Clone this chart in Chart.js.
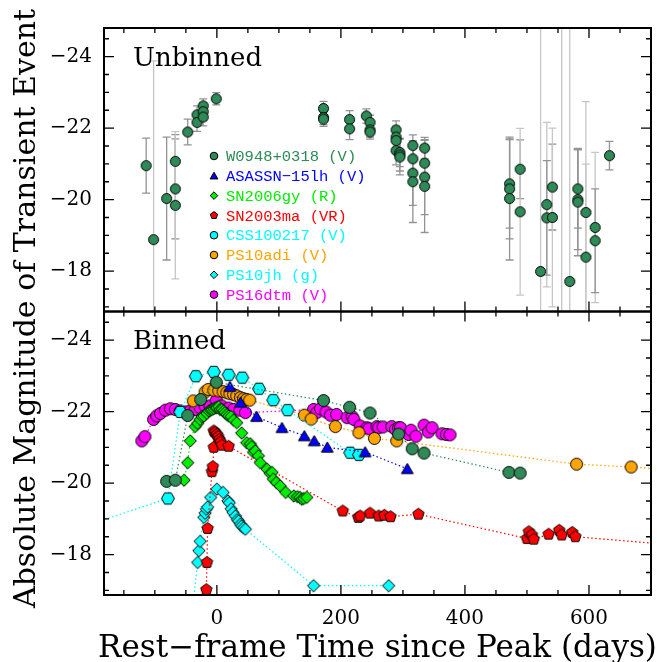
<!DOCTYPE html>
<html>
<head>
<meta charset="utf-8">
<script src="https://cdn.jsdelivr.net/npm/chart.js@4/dist/chart.umd.min.js"></script>
<style>
  html, body { margin: 0; padding: 0; background: #fff; }
  canvas { display: block; }
</style>
</head>
<body>
<canvas id="chart" width="663" height="662"></canvas>
<script>
// ---- axis ranges and ticks ----
const xMin = -182, xMax = 700;
const yMin = -24.8, yMax = -16.87;
const xTickValues = [0, 200, 400, 600];
const yTickValues = [-24, -22, -20, -18];

const legendLabels = ['W0948+0318 (V)', 'ASASSN\u221215lh (V)', 'SN2006gy (R)', 'SN2003ma (VR)',
  'CSS100217 (V)', 'PS10adi (V)', 'PS10jh (g)', 'PS16dtm (V)'];

// ---- top panel: W0948+0318 unbinned photometry ----
const unbinnedDays = [-114, -102, -81, -67, -67, -67, -47, -32, -32, -22, -22, -22, -1, 172, 172, 172, 214, 214,
  241, 247, 247, 247, 289, 289, 289, 289, 295, 295, 295, 316, 316, 316, 316, 335, 335, 335, 335,
  472, 472, 472, 489, 489, 522, 532, 532, 541, 541, 556, 569, 582, 582, 582, 595, 595, 610, 610, 633];
const unbinnedMags = [-20.95, -18.88, -20.03, -21.07, -20.30, -19.84, -21.89, -22.37, -22.16, -22.62, -22.46, -22.31,
  -22.82, -22.55, -22.30, -22.25, -22.24, -21.98, -22.34, -22.16, -21.95, -21.89, -21.95, -21.75, -21.65, -21.37,
  -21.32, -21.25, -21.19, -21.51, -21.14, -20.74, -20.50, -21.44, -21.02, -20.63, -20.37, -20.44, -20.30, -20.03,
  -20.85, -19.66, -17.99, -19.86, -19.49, -20.35, -19.50, -16.30, -17.71, -20.30, -20.00, -19.93, -19.64, -18.39,
  -19.22, -18.85, -21.23];
const unbinnedErrs = [0.77, 5.0, 1.72, 0.75, 1.4, 2.06, 0.36, 0.25, 0.25, 0.2, 0.25, 0.25, 0.17, 0.2, 0.2, 0.2, 0.25, 0.3,
  0.2, 0.2, 0.2, 0.2, 0.25, 0.3, 0.3, 0.4, 0.4, 0.45, 0.5, 0.3, 0.4, 0.9, 1.14, 0.3, 0.5, 1.05, 1.29,
  1.24, 1.4, 1.72, 0.82, 2.33, 7.5, 2.3, 1.6, 1.2, 2.5, 9.0, 7.5, 1.1, 1.4, 1.5, 3.1, 2.6, 2.1, 1.45, 0.4];

// ---- bottom panel: binned light curves ----
const w0948Days = [-81, -67, -47, -26, -1, 172, 214, 247, 293, 315, 334, 471, 489];
const w0948Mags = [-20.05, -20.08, -21.89, -22.34, -22.82, -22.31, -22.12, -21.96, -21.37, -20.96, -20.84, -20.30, -20.28];

const asassnDays = [21, 38, 64, 105, 141, 157, 178, 239, 307];
const asassnMags = [-22.70, -22.26, -21.86, -21.55, -21.32, -21.18, -21.00, -20.87, -20.40];

const sn2006gyDays = [-53, -47, -43, -35, -31, -27, -24, -21, -16, -13, -10, -8, -5, -2, 0, 3, 5, 8, 11, 13,
  16, 19, 23, 27, 32, 40, 48, 54, 56, 59, 62, 67, 70, 81, 86, 89, 91, 96, 102, 111, 124, 130, 134, 137, 140, 145];
const sn2006gyMags = [-20.08, -20.57, -21.18, -21.58, -21.67, -21.78, -21.86, -21.88, -21.95, -22.02, -22.04, -22.06,
  -22.08, -22.11, -22.11, -22.14, -22.06, -22.06, -22.02, -21.97, -21.92, -21.88, -21.86, -21.76, -21.69, -21.40,
  -21.13, -21.10, -21.02, -20.86, -20.90, -20.76, -20.57, -20.39, -20.27, -20.30, -20.11, -20.02, -19.92, -19.74,
  -19.64, -19.62, -19.60, -19.55, -19.57, -19.60];

const sn2003maDays = [-17, -16, -15, -8, -6.5, -5, -5, -3, 0, 2, 4, 6, 8, 19, 203, 228, 231, 247, 261, 270,
  280, 325, 500, 503, 508, 511, 535, 552, 556, 573, 578, 820];
const sn2003maMags = [-17.02, -17.78, -18.73, -20.32, -20.46, -21.00, -21.46, -21.42, -21.36, -21.30, -21.22, -21.15,
  -21.06, -21.03, -19.22, -19.04, -19.08, -19.16, -19.08, -19.10, -19.06, -19.13, -18.45, -18.64, -18.55, -18.43,
  -18.57, -18.68, -18.55, -18.62, -18.50, -18.15];

const css100217Days = [-230, -79, -59, -34, -5, 19, 41, 68, 91, 114, 215, 229];
const css100217Mags = [-18.70, -19.57, -21.99, -22.99, -23.11, -23.03, -22.95, -22.64, -22.32, -22.04, -20.85, -20.79];

const ps10adiDays = [-38, -19, -14, -5, 3, 10, 16, 21, 27, 32, 38, 43, 48, 53, 141, 152, 191, 229, 254, 290, 580, 668, 780];
const ps10adiMags = [-22.30, -22.55, -22.62, -22.60, -22.58, -22.56, -22.53, -22.50, -22.48, -22.44, -22.39, -22.36,
  -22.34, -22.32, -21.90, -21.79, -21.58, -21.41, -21.25, -21.18, -20.53, -20.45, -20.33];

const ps10jhDays = [-40, -31, -29, -27, -21, -19, -17, -15, -10, 0, 10, 18, 20, 23, 26, 30, 33, 35, 38, 40, 43, 46, 156, 277];
const ps10jhMags = [-16.40, -17.78, -18.11, -18.37, -19.04, -19.16, -19.27, -19.33, -19.60, -19.83, -19.74, -19.50,
  -19.45, -19.28, -19.18, -19.08, -18.98, -18.94, -18.85, -18.80, -18.75, -18.71, -17.13, -17.13];

const ps16dtmDays = [-121, -116, -102, -97, -91, -83, -75, -67, -59, -51, -43, -35, -27, -19, -11, -1, 8, 19, 27, 37,
  46, 156, 161, 167, 176, 183, 193, 210, 218, 221, 231, 242, 245, 258, 261, 268, 282, 288, 293, 296,
  309, 313, 321, 334, 341, 347, 363, 370, 376];
const ps16dtmMags = [-21.18, -21.30, -21.78, -21.88, -21.95, -22.04, -22.08, -22.06, -22.02, -21.99, -22.02, -22.06,
  -22.11, -22.14, -22.16, -22.32, -22.16, -22.10, -22.06, -22.04, -21.97, -22.06, -21.97, -22.08, -21.99, -21.90,
  -21.92, -21.83, -21.86, -21.78, -21.60, -21.55, -21.52, -21.58, -21.55, -21.57, -21.58, -21.50, -21.55, -21.55,
  -21.36, -21.48, -21.31, -21.62, -21.43, -21.55, -21.38, -21.36, -21.35];

// ---- styling ----
const serif = '"DejaVu Serif", serif';
const mono = '"Liberation Mono", monospace';

const series = [
  { days: w0948Days, mags: w0948Mags, color: '#2E8B57', shape: 'circle', r: 6 },
  { days: asassnDays, mags: asassnMags, color: '#0000FF', shape: 'triangle', r: 6.8 },
  { days: sn2006gyDays, mags: sn2006gyMags, color: '#00EE00', shape: 'diamond', r: 6.2 },
  { days: sn2003maDays, mags: sn2003maMags, color: '#FF0000', shape: 'pentagon', r: 6 },
  { days: css100217Days, mags: css100217Mags, color: '#00FFFF', shape: 'hexagon', r: 6.5 },
  { days: ps10adiDays, mags: ps10adiMags, color: '#FFA500', shape: 'circle', r: 6 },
  { days: ps10jhDays, mags: ps10jhMags, color: '#00FFFF', shape: 'diamond', r: 6.2 },
  { days: ps16dtmDays, mags: ps16dtmMags, color: '#FF00FF', shape: 'circle', r: 6 }
];

function shapePath(g, shape, x, y, r) {
  g.beginPath();
  if (shape === 'circle') {
    g.arc(x, y, r, 0, Math.PI * 2);
    return;
  }
  const n = { triangle: 3, diamond: 4, pentagon: 5, hexagon: 6 }[shape];
  const rot = shape === 'hexagon' ? 0 : -Math.PI / 2;
  const dy = shape === 'triangle' ? r * 0.2 : 0;
  for (let k = 0; k < n; k++) {
    const ang = rot + k * 2 * Math.PI / n;
    const px = x + r * Math.cos(ang), py = y + dy + r * Math.sin(ang);
    if (k) g.lineTo(px, py); else g.moveTo(px, py);
  }
  g.closePath();
}

function sprite(shape, color, r) {
  const c = document.createElement('canvas');
  const s = Math.ceil(2 * r + 3);
  c.width = c.height = s;
  const g = c.getContext('2d');
  shapePath(g, shape, s / 2, s / 2, r);
  g.fillStyle = color;
  g.fill();
  g.lineWidth = 1;
  g.strokeStyle = '#000';
  g.stroke();
  return c;
}

const toPoints = (days, mags) => days.map((d, i) => ({ x: d, y: mags[i] }));

const datasets = [];
series.forEach(s => {
  datasets.push({
    data: toPoints(s.days, s.mags),
    yAxisID: 'yBot',
    showLine: true,
    borderColor: s.color,
    borderWidth: 1.2,
    borderDash: [1.5, 2.5],
    pointStyle: sprite(s.shape, s.color, s.r),
    pointRadius: s.r
  });
});
datasets.push({
  data: toPoints(unbinnedDays, unbinnedMags),
  yAxisID: 'yTop',
  showLine: false,
  pointStyle: sprite('circle', '#2E8B57', 5),
  pointRadius: 5
});

const fmtMag = v => (v < 0 ? '\u2212' : '') + Math.abs(v);

function panelAxis(weight) {
  return {
    type: 'linear', position: 'left', stack: 'panels', stackWeight: 1, weight,
    reverse: true, min: yMin, max: yMax,
    grid: { display: false, drawTicks: false },
    border: { display: false },
    afterBuildTicks: s => { s.ticks = yTickValues.map(v => ({ value: v })); },
    afterFit: s => { s.width = 104; },
    ticks: { padding: 12, color: '#000', font: { family: serif, size: 20 }, callback: fmtMag }
  };
}

const panelPlugin = {
  id: 'panels',
  beforeDatasetsDraw(chart) {
    const { ctx, chartArea: a } = chart;
    const x = chart.scales.x, ys = chart.scales.yTop;
    ctx.save();
    ctx.beginPath();
    ctx.rect(a.left, ys.top, a.right - a.left, ys.bottom - ys.top);
    ctx.clip();
    ctx.lineWidth = 1.3;
    unbinnedDays.forEach((d, i) => {
      const px = x.getPixelForValue(d);
      const y1 = ys.getPixelForValue(unbinnedMags[i] - unbinnedErrs[i]);
      const y2 = ys.getPixelForValue(unbinnedMags[i] + unbinnedErrs[i]);
      ctx.strokeStyle = unbinnedErrs[i] > 2 ? '#c6c6c6' : '#939393';
      ctx.beginPath();
      ctx.moveTo(px, y1); ctx.lineTo(px, y2);
      ctx.moveTo(px - 4, y1); ctx.lineTo(px + 4, y1);
      ctx.moveTo(px - 4, y2); ctx.lineTo(px + 4, y2);
      ctx.stroke();
    });
    ctx.restore();
  },
  beforeDatasetDraw(chart, args) {
    const ys = chart.scales[args.meta.yAxisID];
    const a = chart.chartArea;
    chart.ctx.save();
    chart.ctx.beginPath();
    chart.ctx.rect(a.left, ys.top, a.right - a.left, ys.bottom - ys.top);
    chart.ctx.clip();
  },
  afterDatasetDraw(chart) {
    chart.ctx.restore();
  },
  afterDraw(chart) {
    const { ctx, chartArea: a } = chart;
    const x = chart.scales.x;
    ctx.save();
    ctx.strokeStyle = '#000';
    ['yTop', 'yBot'].forEach(id => {
      const ys = chart.scales[id];
      ctx.lineWidth = 1.3;
      ctx.beginPath();
      for (let d = Math.ceil(xMin / 50) * 50; d <= xMax; d += 50) {
        const px = x.getPixelForValue(d);
        const len = d % 200 === 0 ? 10 : 5;
        ctx.moveTo(px, ys.top); ctx.lineTo(px, ys.top + len);
        ctx.moveTo(px, ys.bottom); ctx.lineTo(px, ys.bottom - len);
      }
      for (let m = Math.ceil(yMin * 2) / 2; m <= yMax; m += 0.5) {
        const py = ys.getPixelForValue(m);
        const len = m % 2 === 0 ? 10 : 5;
        ctx.moveTo(a.left, py); ctx.lineTo(a.left + len, py);
        ctx.moveTo(a.right, py); ctx.lineTo(a.right - len, py);
      }
      ctx.stroke();
      ctx.lineWidth = 2;
      ctx.strokeRect(a.left, ys.top, a.right - a.left, ys.bottom - ys.top);
    });

    // panel names
    ctx.fillStyle = '#000';
    ctx.font = '26px ' + serif;
    ctx.textAlign = 'left';
    ctx.textBaseline = 'alphabetic';
    ctx.fillText('Unbinned', a.left + 29, chart.scales.yTop.top + 38);
    ctx.fillText('Binned', a.left + 29, chart.scales.yBot.top + 37);

    // legend
    const top = chart.scales.yTop.top;
    ctx.font = '15.5px ' + mono;
    ctx.textBaseline = 'middle';
    series.forEach((s, i) => {
      const cy = top + 128 + i * 19.8;
      const mx = a.left + 110;
      shapePath(ctx, s.shape === 'hexagon' ? 'circle' : s.shape, mx, cy, s.shape === 'triangle' ? 4.5 : 3.8);
      ctx.fillStyle = s.color;
      ctx.fill();
      ctx.lineWidth = 1;
      ctx.stroke();
      ctx.fillText(legendLabels[i], a.left + 122, cy + 1);
    });

    // axis titles
    ctx.fillStyle = '#000';
    ctx.font = '31px ' + serif;
    ctx.textAlign = 'center';
    ctx.textBaseline = 'alphabetic';
    ctx.fillText('Rest\u2212frame Time since Peak (days)', (a.left + a.right) / 2, 657);
    ctx.font = '30px ' + serif;
    ctx.translate(35, (a.top + a.bottom) / 2 - 3);
    ctx.rotate(-Math.PI / 2);
    ctx.fillText('Absolute Magnitude of Transient Event', 0, 0);
    ctx.restore();
  }
};

new Chart(document.getElementById('chart'), {
  type: 'scatter',
  data: { datasets },
  options: {
    responsive: false,
    animation: false,
    layout: { padding: { top: 28, right: 12, left: 0, bottom: 0 } },
    plugins: { legend: { display: false }, tooltip: { enabled: false } },
    elements: { line: { tension: 0 } },
    scales: {
      x: {
        type: 'linear', position: 'bottom', min: xMin, max: xMax,
        grid: { display: false, drawTicks: false },
        border: { display: false },
        afterBuildTicks: s => { s.ticks = xTickValues.map(v => ({ value: v })); },
        afterFit: s => { s.height = 67; },
        ticks: { padding: 12, color: '#000', font: { family: serif, size: 20 }, maxRotation: 0, autoSkip: false }
      },
      yTop: panelAxis(2),
      yBot: panelAxis(1)
    }
  },
  plugins: [panelPlugin]
});
</script>
</body>
</html>
